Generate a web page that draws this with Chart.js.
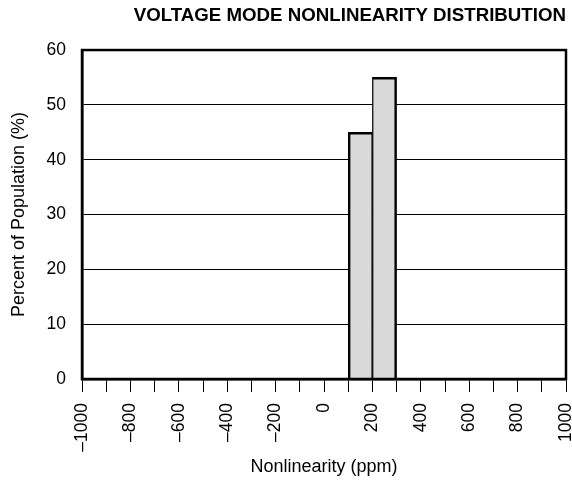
<!DOCTYPE html>
<html>
<head>
<meta charset="utf-8">
<script src="https://cdn.jsdelivr.net/npm/chart.js@4"></script>
<style>
html,body{margin:0;padding:0;background:#fff;}
#wrap{width:572px;height:483px;}
</style>
</head>
<body>
<div id="wrap"><canvas id="c" width="572" height="483"></canvas></div>
<script>
// ---- data ----
const binLow = [100, 200];
const binHigh = [200, 300];
const percentOfPopulation = [45, 55];
const xTickLabels = ['\u20131000','\u2013800','\u2013600','\u2013400','\u2013200','0','200','400','600','800','1000'];
const yTickLabels = ['0','10','20','30','40','50','60'];
const chartTitle = 'VOLTAGE MODE NONLINEARITY DISTRIBUTION';
const xTitle = 'Nonlinearity (ppm)';
const yTitle = 'Percent of Population (%)';

const FONT = "'Liberation Sans', Arial, Helvetica, sans-serif";

const points = binLow.map((lo, i) => ({ x: (lo + binHigh[i]) / 2, y: percentOfPopulation[i] }));

const framePlugin = {
  id: 'frame',
  afterDraw(chart) {
    const a = chart.chartArea, ctx = chart.ctx;
    ctx.save();
    ctx.strokeStyle = '#000';
    ctx.lineWidth = 2.5;
    ctx.strokeRect(a.left, a.top, a.right - a.left, a.bottom - a.top);
    ctx.restore();
  }
};

new Chart(document.getElementById('c'), {
  type: 'bar',
  data: {
    datasets: [{
      data: points,
      backgroundColor: '#d9d9d9',
      borderColor: '#000',
      borderWidth: (ctx) => ({
        top: 2.5,
        bottom: 0,
        left: ctx.dataIndex === 0 ? 2.5 : 1.3,
        right: ctx.dataIndex === points.length - 1 ? 2.5 : 1.3
      }),
      borderSkipped: 'start',
      barPercentage: 1,
      categoryPercentage: 1
    }]
  },
  options: {
    responsive: false,
    animation: false,
    devicePixelRatio: 1,
    layout: { padding: { left: 0, right: 6, top: 0, bottom: 0 } },
    plugins: {
      legend: { display: false },
      tooltip: { enabled: false },
      title: {
        display: true,
        text: chartTitle,
        align: 'end',
        color: '#000',
        font: { family: FONT, size: 18.7, weight: 'bold', lineHeight: 1.2 },
        padding: { top: 5, bottom: 22.6 }
      }
    },
    scales: {
      x: {
        type: 'linear',
        min: -1000,
        max: 1000,
        offset: false,
        afterFit(scale) { scale.height = 104; scale.paddingLeft = 0; scale.paddingRight = 0; },
        border: { display: true, color: '#000', width: 2.5 },
        grid: { offset: false, drawOnChartArea: false, drawTicks: true, tickLength: 13, color: '#000', lineWidth: 1 },
        ticks: {
          stepSize: 100,
          autoSkip: false,
          minRotation: 90,
          maxRotation: 90,
          padding: 11,
          color: '#000',
          font: { family: FONT, size: 17.5 },
          callback: (v) => (v % 200 === 0 ? xTickLabels[(v + 1000) / 200] : '')
        },
        title: {
          display: true,
          text: xTitle,
          color: '#000',
          font: { family: FONT, size: 18, lineHeight: 1.2 },
          padding: { top: 0, bottom: 5 }
        }
      },
      y: {
        min: 0,
        max: 60,
        afterFit(scale) { scale.width = 82; scale.paddingTop = 0; scale.paddingBottom = 0; },
        border: { display: true, color: '#000', width: 2.5 },
        grid: { color: '#000', lineWidth: 1, drawTicks: false },
        ticks: {
          stepSize: 10,
          padding: 16,
          color: '#000',
          font: { family: FONT, size: 17.5 },
          callback: (v) => yTickLabels[v / 10]
        },
        title: {
          display: true,
          text: yTitle,
          color: '#000',
          font: { family: FONT, size: 18, lineHeight: 1.2 },
          padding: { top: 8, bottom: 0 }
        }
      }
    }
  },
  plugins: [framePlugin]
});
</script>
</body>
</html>
